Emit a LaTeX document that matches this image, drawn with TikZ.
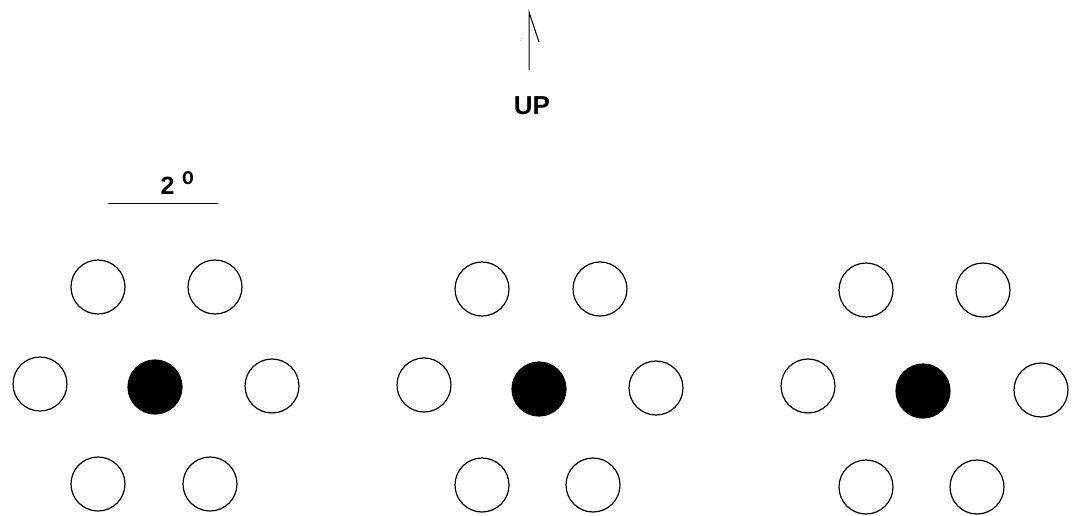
\documentclass[tikz,border=0pt]{standalone}
\usepackage{fontspec}
\setmainfont{Liberation Sans}
\begin{document}
\begin{tikzpicture}[x=1pt,y=-1pt,
  ring/.style={circle,draw=black,line width=1.2pt,minimum size=54pt,inner sep=0pt},
  core/.style={circle,fill=black,draw=black,line width=1.2pt,minimum size=54pt,inner sep=0pt},
  lbl/.style={inner sep=0pt,font=\fontsize{26}{26}\selectfont\bfseries}]
\useasboundingbox (0,0) rectangle (1073,515);

% direction arrow
\coordinate (upbase) at (529,70);
\coordinate (uptip) at (529,12);
\coordinate (barbR) at (539,42);
\coordinate (barbL1) at (523,33);
\coordinate (barbL2) at (520,42);
\draw[line width=1pt] (upbase) -- (uptip) -- (barbR);
\draw[line width=0.6pt,gray,dotted] (barbL1) -- (barbL2);
\node[lbl] (up) at (532,105.5) {UP};

% angular scale bar
\coordinate (barL) at (108,203);
\coordinate (barR) at (218,203);
\draw[line width=1pt] (barL) -- (barR);
\node[inner sep=0pt,font=\fontsize{25}{25}\selectfont\bfseries] (deg) at (167.5,186) {2};
\node[inner sep=0pt,xscale=0.8,font=\fontsize{24}{24}\selectfont\bfseries] (degmark) at (188,178.5) {o};

% pattern 1
\node[ring] (a1) at (98,287) {};
\node[ring] (a2) at (215,287) {};
\node[ring] (a3) at (40,384) {};
\node[core] (a0) at (155,387) {};
\node[ring] (a4) at (272,386) {};
\node[ring] (a5) at (98,484) {};
\node[ring] (a6) at (210,484) {};

% pattern 2
\node[ring] (b1) at (482,289) {};
\node[ring] (b2) at (600,289) {};
\node[ring] (b3) at (424,385) {};
\node[core] (b0) at (539,389) {};
\node[ring] (b4) at (656,388) {};
\node[ring] (b5) at (482,485) {};
\node[ring] (b6) at (593,485) {};

% pattern 3
\node[ring] (c1) at (866,290) {};
\node[ring] (c2) at (983,290) {};
\node[ring] (c3) at (808,386) {};
\node[core] (c0) at (923,391) {};
\node[ring] (c4) at (1041,390) {};
\node[ring] (c5) at (866,487) {};
\node[ring] (c6) at (977,487) {};
\end{tikzpicture}
\end{document}
